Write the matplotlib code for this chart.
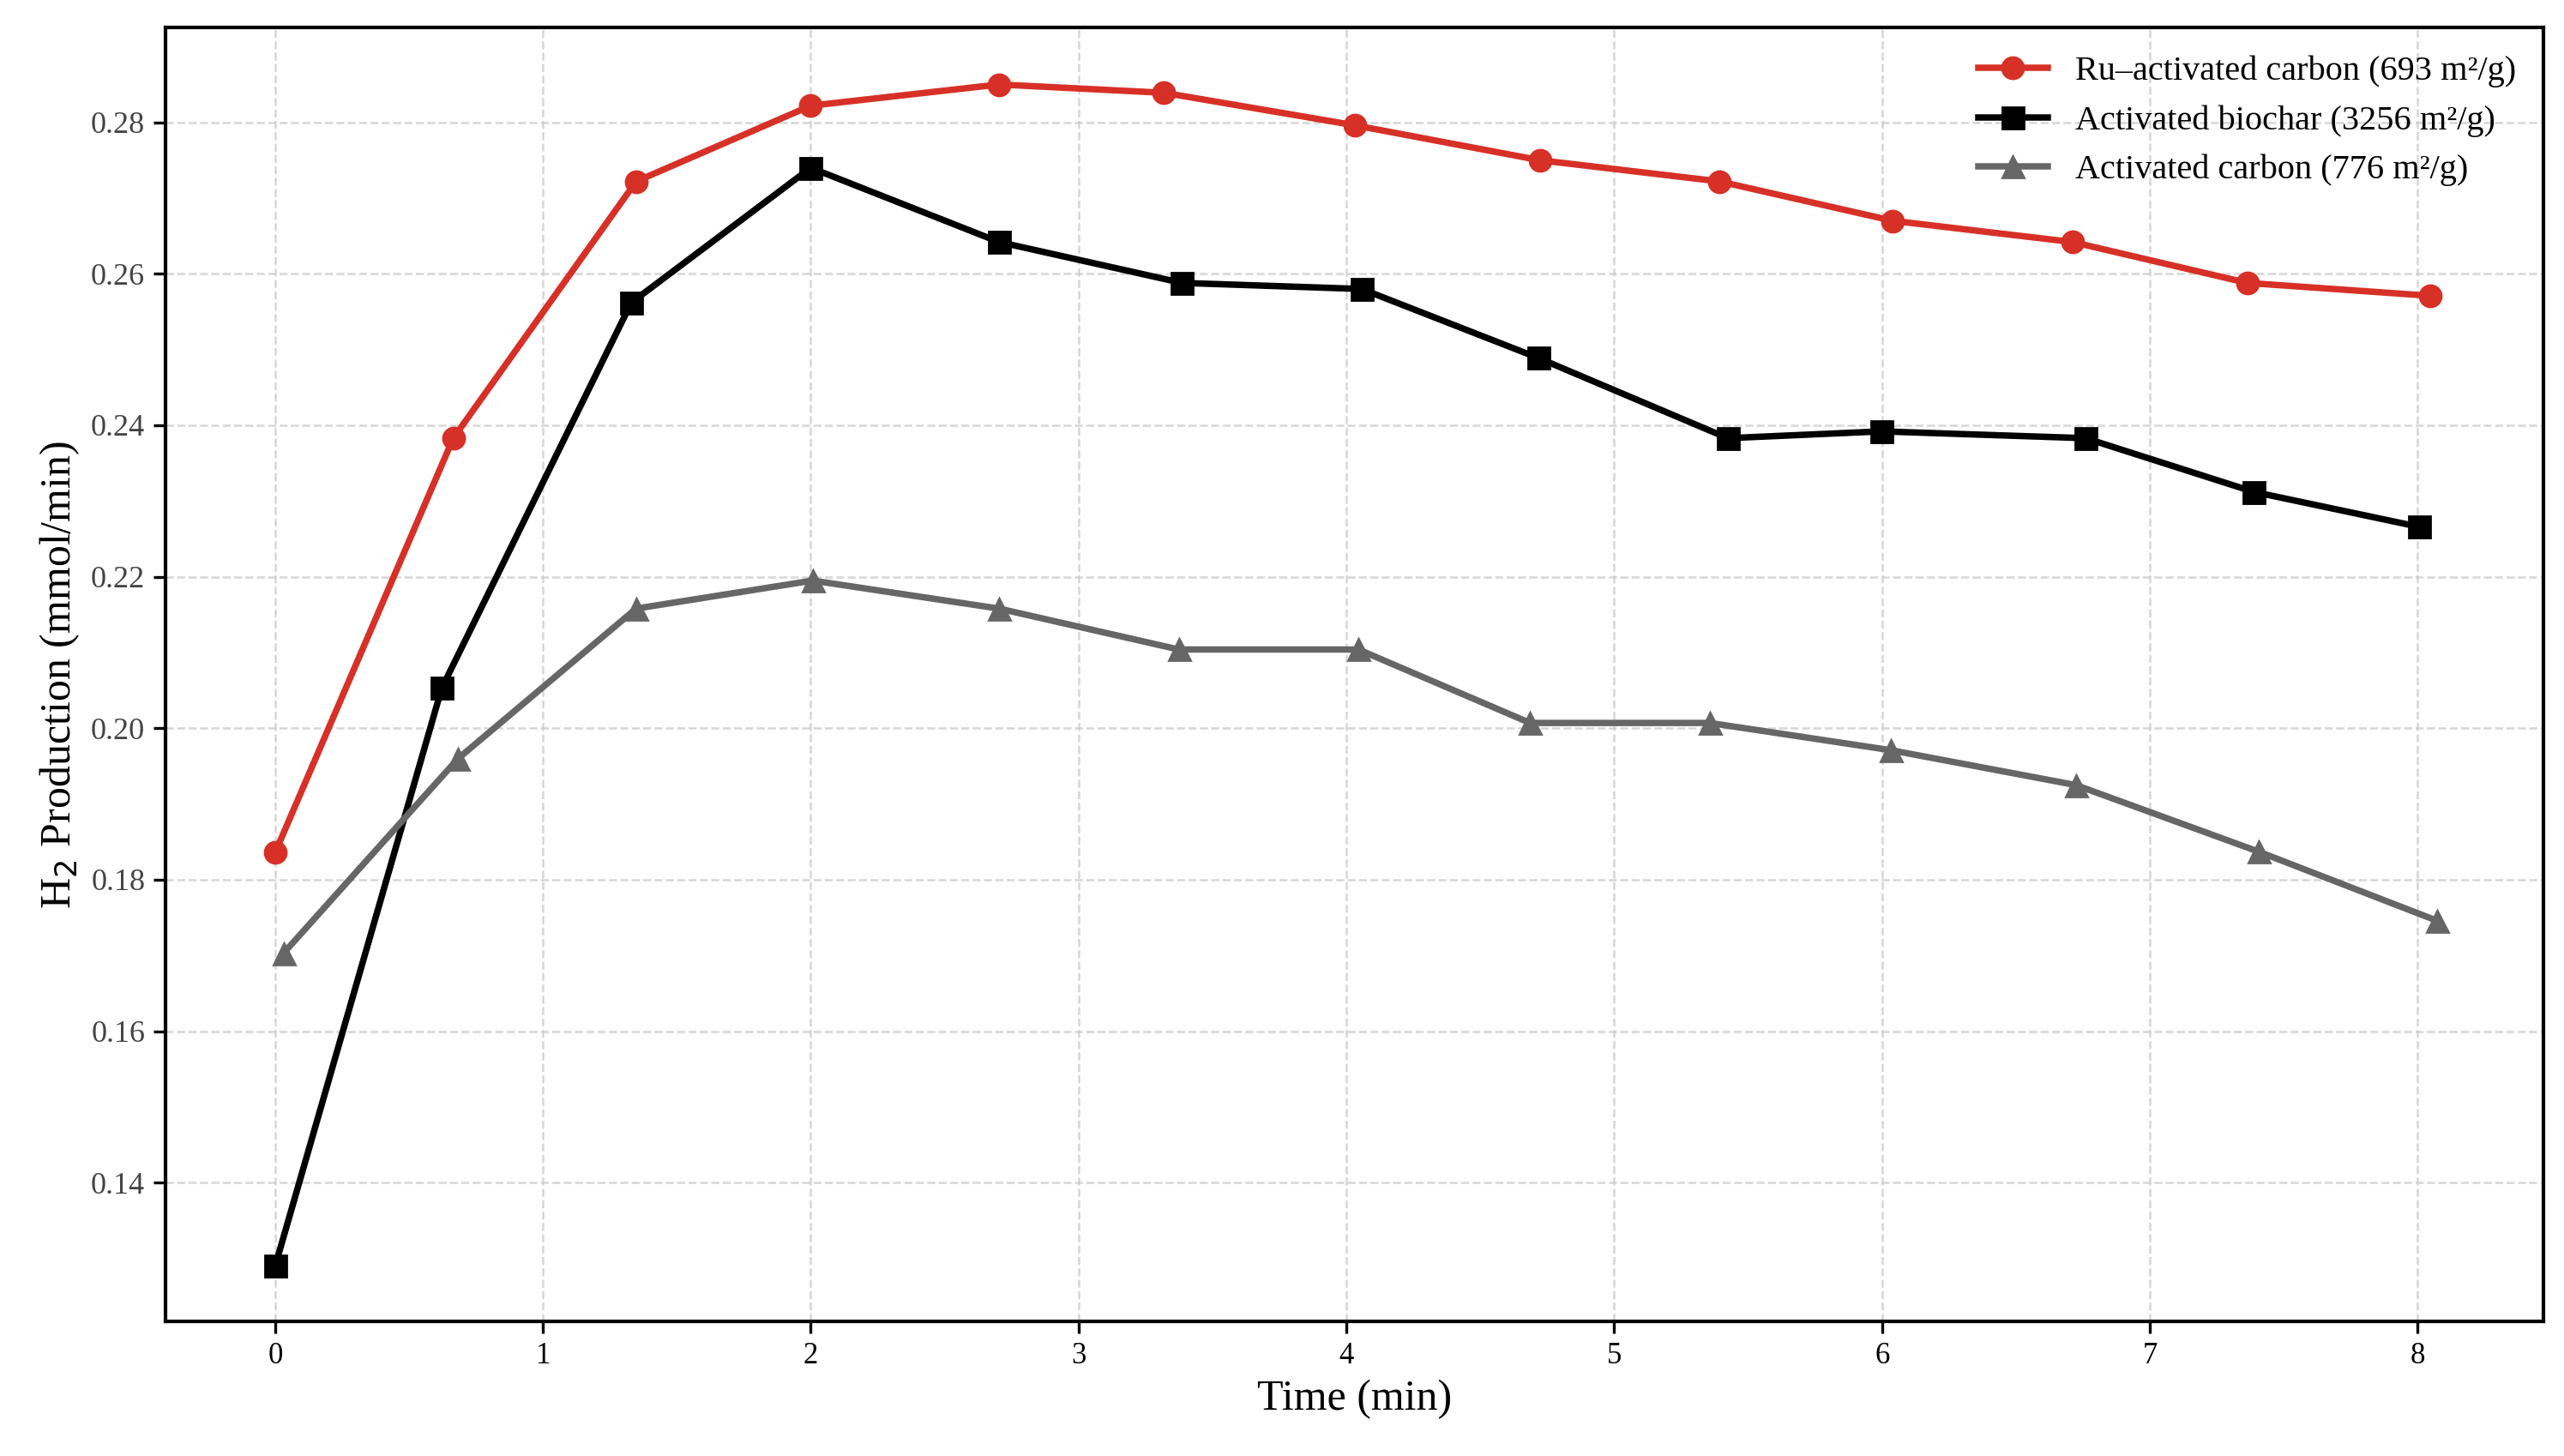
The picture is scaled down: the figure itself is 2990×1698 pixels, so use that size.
import matplotlib
matplotlib.use("Agg")
import matplotlib.pyplot as plt

# data
time_ru = [0.0, 0.665, 1.348, 2.0, 2.703, 3.319, 4.033, 4.722, 5.393, 6.040, 6.711, 7.364, 8.047]
h2_ru = [0.1836, 0.2383, 0.2722, 0.2822, 0.2850, 0.2839, 0.2796, 0.2750, 0.2722, 0.2670, 0.2642, 0.2588, 0.2571]

time_bio = [0.0, 0.622, 1.330, 2.0, 2.703, 3.386, 4.057, 4.716, 5.424, 5.998, 6.760, 7.389, 8.005]
h2_bio = [0.1290, 0.2053, 0.2562, 0.2740, 0.2642, 0.2588, 0.2580, 0.2489, 0.2383, 0.2392, 0.2383, 0.2312, 0.2266]

time_ac = [0.031, 0.683, 1.348, 2.007, 2.703, 3.374, 4.045, 4.686, 5.357, 6.034, 6.724, 7.407, 8.072]
h2_ac = [0.1703, 0.1960, 0.2158, 0.2195, 0.2158, 0.2104, 0.2104, 0.2007, 0.2007, 0.1971, 0.1925, 0.1837, 0.1746]

labels = ["Ru\u2013activated carbon (693 m\u00b2/g)",
          "Activated biochar (3256 m\u00b2/g)",
          "Activated carbon (776 m\u00b2/g)"]

plt.rcParams['font.family'] = ['Liberation Serif', 'DejaVu Serif']

fig = plt.figure(figsize=(14.95, 8.49), dpi=200)
ax = fig.add_axes([0.0645, 0.0925, 0.9275, 0.8885])

ax.plot(time_ru, h2_ru, color='#d73027', marker='o', markersize=9, linewidth=2.7, label=labels[0])
ax.plot(time_bio, h2_bio, color='black', marker='s', markersize=9, linewidth=2.7, label=labels[1])
ax.plot(time_ac, h2_ac, color='#666666', marker='^', markersize=9, linewidth=2.7, label=labels[2])

ax.set_xlim(-0.41, 8.47)
ax.set_ylim(0.1217, 0.2925)
ax.set_xticks(range(0, 9))
ax.set_yticks([0.14, 0.16, 0.18, 0.20, 0.22, 0.24, 0.26, 0.28])
ax.set_yticklabels(["0.14", "0.16", "0.18", "0.20", "0.22", "0.24", "0.26", "0.28"])

ax.grid(True, linestyle='--', color='#cccccc', linewidth=0.9, alpha=0.8)
ax.tick_params(axis='x', direction='out', length=5, width=1.2, labelsize=12.5, colors='black')
ax.tick_params(axis='y', direction='out', length=5, width=1.2, labelsize=13, colors='black')
for label in ax.get_yticklabels():
    label.set_color('#444444')
for spine in ax.spines.values():
    spine.set_linewidth(1.5)

ax.set_xlabel("Time (min)", fontsize=18)
ax.set_ylabel("H$_2$ Production (mmol/min)", fontsize=18)

ax.legend(loc='upper right', frameon=False, fontsize=14.5, handlelength=2.0, labelspacing=0.5,
          borderaxespad=0.4)

fig.savefig("out.png", dpi=200)
